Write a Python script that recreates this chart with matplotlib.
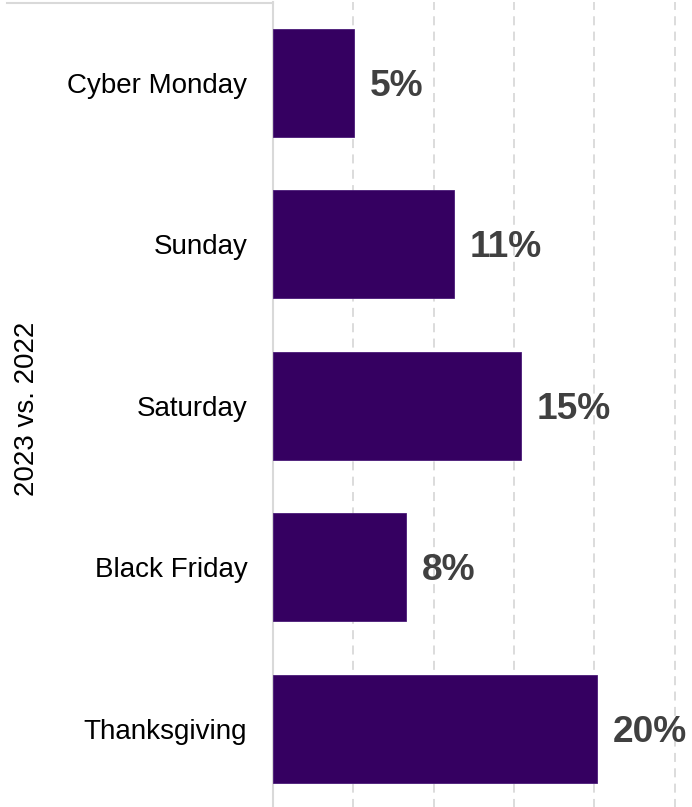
import matplotlib
matplotlib.use("Agg")
import matplotlib.pyplot as plt
from matplotlib.lines import Line2D

categories = ["Cyber Monday", "Sunday", "Saturday", "Black Friday", "Thanksgiving"]
values = [5.06, 11.26, 15.44, 8.31, 20.15]
labels = ["5%", "11%", "15%", "8%", "20%"]
y_title = "2023 vs. 2022"

plt.rcParams['font.family'] = ['Liberation Sans', 'DejaVu Sans']

W, H = 692, 807
fig = plt.figure(figsize=(W / 100, H / 100), dpi=100)
left = 272.7 / W
ax_top_px = 2.0
ax_h_px = 807.5
ax = fig.add_axes([left, 1 - (ax_top_px + ax_h_px) / H, 1 - left, ax_h_px / H])

ypos = list(range(len(categories)))
ax.barh(ypos, values, height=0.67, color='#350061', edgecolor='#4a1a78', linewidth=0.6, zorder=3)
ax.set_ylim(len(categories) - 0.5, -0.5)
ax.set_xlim(0, (W - 272.7) / 16.08)

ax.set_yticks(ypos)
ax.set_yticklabels(categories, fontsize=20, color='#000000')
ax.tick_params(axis='y', length=0, pad=18.3)
ax.set_xticks([5, 10, 15, 20, 25])
ax.tick_params(axis='x', length=0, labelbottom=False)
ax.grid(axis='x', color='#d9d9d9', linestyle=(0, (5, 3.5)), linewidth=1.3, zorder=0)

for s in ['top', 'right', 'bottom']:
    ax.spines[s].set_visible(False)
ax.spines['left'].set_color('#d9d9d9')
ax.spines['left'].set_linewidth(1.5)

for y, v, lab in zip(ypos, values, labels):
    ax.annotate(lab, xy=(v, y), xytext=(11.5, -2.5), textcoords='offset points',
                ha='left', va='center', fontsize=26.7, fontweight='bold', color='#404040')

ax.set_ylabel(y_title, fontsize=20, color='#000000')
ax.yaxis.set_label_coords(-0.555, 0.4957)

fig.add_artist(Line2D([7 / W, left], [1 - 2.5 / H, 1 - 2.5 / H], transform=fig.transFigure,
                      color='#d9d9d9', linewidth=1.5))

fig.savefig("out.png", dpi=100)
